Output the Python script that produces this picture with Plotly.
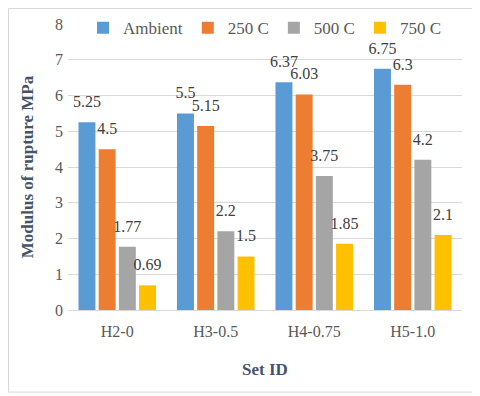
import plotly.graph_objects as go

# modulus of rupture per set and temperature
set_ids = ["H2-0", "H3-0.5", "H4-0.75", "H5-1.0"]
series_names = ["Ambient", "250 C", "500 C", "750 C"]
ambient = [5.25, 5.5, 6.37, 6.75]
t250 = [4.5, 5.15, 6.03, 6.3]
t500 = [1.77, 2.2, 3.75, 4.2]
t750 = [0.69, 1.5, 1.85, 2.1]
y_ticks = [0, 1, 2, 3, 4, 5, 6, 7, 8]

colors = ["#5b9bd5", "#ed7d31", "#a5a5a5", "#ffc000"]
serif = "Liberation Serif"

fig = go.Figure()
for name, vals, col in zip(series_names, [ambient, t250, t500, t750], colors):
    fig.add_trace(go.Bar(
        x=set_ids, y=vals, name=name, offsetgroup=name,
        marker=dict(color=col, line=dict(width=0)),
    ))
# data labels, pushed up a bit like the excel ones
for name, vals in zip(series_names, [ambient, t250, t500, t750]):
    fig.add_trace(go.Scatter(
        x=set_ids, y=vals, offsetgroup=name, mode="text+markers",
        text=[str(v) for v in vals], textposition="top center",
        marker=dict(size=16, opacity=0),
        textfont=dict(family=serif, size=16, color="#404040"),
        showlegend=False, hoverinfo="skip", cliponaxis=False,
    ))

# page body adds an 8px margin, so the figure is a bit smaller than the window
fig.update_layout(
    width=472, height=388,
    barmode="group", scattermode="group",
    bargap=0.18, bargroupgap=0.16,
    plot_bgcolor="white", paper_bgcolor="white",
    margin=dict(l=60, r=18, t=16, b=86, autoexpand=False),
    font=dict(family=serif, size=16, color="#595959"),
    legend=dict(orientation="h", x=0.5, xanchor="center", y=0.985, yanchor="middle",
                bgcolor="rgba(0,0,0,0)",
                font=dict(family=serif, size=17, color="#595959"),
                itemwidth=30, tracegroupgap=0),
    shapes=[dict(type="rect", xref="paper", yref="paper",
                 x0=-0.151, x1=1.0355, y0=-0.287, y1=1.054,
                 line=dict(color="#d9d9d9", width=1))],
)
fig.update_yaxes(range=[0, 8], tickvals=y_ticks, showgrid=True, gridcolor="#d9d9d9",
                 zeroline=False, ticks="", ticklabelstandoff=4, automargin=False,
                 tickfont=dict(family=serif, size=16, color="#595959"),
                 title=dict(text="<b>Modulus of rupture MPa</b>", standoff=17,
                            font=dict(family=serif, size=17, color="#44546a")))
fig.update_xaxes(showline=True, linecolor="#d9d9d9", ticks="", ticklabelstandoff=7,
                 automargin=False,
                 tickfont=dict(family=serif, size=16, color="#595959"),
                 title=dict(text="<b>Set ID</b>", standoff=23,
                            font=dict(family=serif, size=17, color="#44546a")))

fig.write_html("out.html")
